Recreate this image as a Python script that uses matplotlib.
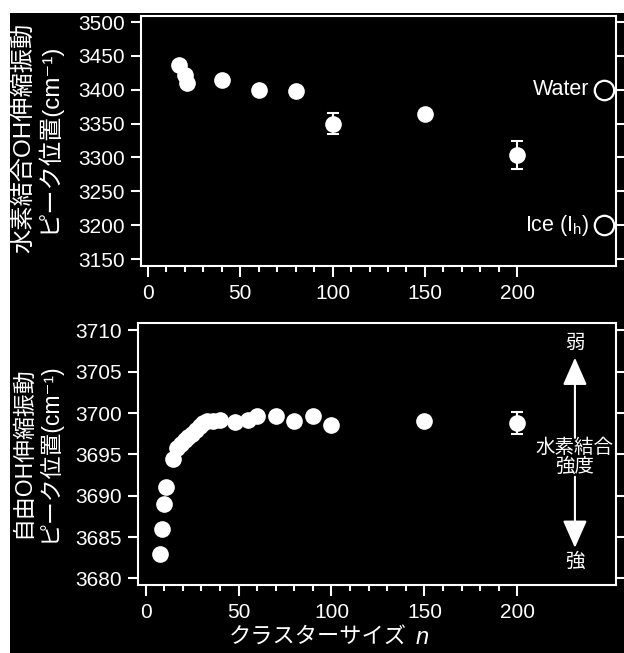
import matplotlib
matplotlib.use("Agg")
import matplotlib.pyplot as plt
from matplotlib.patches import Rectangle
import numpy as np

plt.rcParams['font.family'] = ['Liberation Sans', 'Noto Sans CJK JP', 'DejaVu Sans']
plt.rcParams['mathtext.fontset'] = 'custom'
plt.rcParams['mathtext.rm'] = 'Liberation Sans'
plt.rcParams['mathtext.it'] = 'Liberation Sans:italic'

# ---- data: hydrogen-bonded OH stretch (top) ----
n_hb = [17, 20, 21, 40, 60, 80, 100, 150, 200]
hb_peak = [3436, 3422, 3410, 3415, 3400, 3398, 3350, 3364, 3304]
hb_err = [0, 0, 0, 0, 0, 0, 16, 0, 21]
ref_labels = ["Water", "Ice (I$_\\mathrm{h}$)"]
ref_values = [3400, 3200]

# ---- data: free OH stretch (bottom) ----
n_free = [8, 9, 10, 11, 15, 17, 19, 21, 23, 25, 27, 29, 31, 33, 36, 40,
          48, 55, 60, 70, 80, 90, 100, 150, 200]
free_peak = [3683, 3686, 3689, 3691, 3694.4, 3695.8, 3696.3, 3696.7, 3697.1,
             3697.5, 3697.9, 3698.4, 3698.8, 3699.0, 3699.0, 3699.2,
             3698.9, 3699.2, 3699.7, 3699.6, 3699.0, 3699.7, 3698.5, 3699.0, 3698.8]
free_err = [0] * 24 + [1.3]

top_xticks = [0, 50, 100, 150, 200]
top_yticks = [3150, 3200, 3250, 3300, 3350, 3400, 3450, 3500]
bot_yticks = [3680, 3685, 3690, 3695, 3700, 3705, 3710]

W, H = 624, 653
fig = plt.figure(figsize=(W / 100, H / 100), dpi=100)
fig.patch.set_facecolor('white')
fig.add_artist(Rectangle((10 / W, 0), 1, (H - 13) / H, transform=fig.transFigure,
                         facecolor='black', edgecolor='none', zorder=-10))


def ax_rect(l, r, t, b):
    return [l / W, 1 - b / H, (r - l) / W, (b - t) / H]


ax1 = fig.add_axes(ax_rect(141, 616, 16, 266))
ax2 = fig.add_axes(ax_rect(138, 616, 323, 585))

for ax in (ax1, ax2):
    ax.set_facecolor('black')
    for s in ax.spines.values():
        s.set_color('white')
        s.set_linewidth(1.5)
    ax.tick_params(axis='both', which='major', colors='white', width=1.5,
                   length=7.5, direction='out', labelsize=15, pad=4)
    ax.tick_params(axis='x', which='minor', colors='white', width=1.5,
                   length=4, direction='out')
    ax.tick_params(axis='y', which='both', right=True, labelright=False)
    ax.tick_params(axis='x', which='major', length=8, pad=5)
    ax.set_xticks(top_xticks)
    ax.set_xticks(np.arange(0, 201, 10), minor=True)

# ---- top panel ----
ax1.set_xlim(-3.8, 253.5)
ax1.set_ylim(3139.7, 3508.9)
ax1.set_yticks(top_yticks)
idx = [i for i, e in enumerate(hb_err) if e > 0]
ax1.errorbar([n_hb[i] for i in idx], [hb_peak[i] for i in idx],
             yerr=[hb_err[i] for i in idx], fmt='none', ecolor='white',
             elinewidth=1.5, capsize=4, capthick=1.5, zorder=2)
ax1.plot(n_hb, hb_peak, 'o', color='white', ms=12, mew=0, zorder=3)
for lab, val in zip(ref_labels, ref_values):
    ax1.plot([247], [val], 'o', ms=14, mfc='black', mec='white', mew=1.6,
             clip_on=False, zorder=3)
    ax1.text(239, val, lab, color='white', fontsize=15.5, ha='right', va='center')

# ---- bottom panel ----
ax2.set_xlim(-4.1, 253.1)
ax2.set_ylim(3679.2, 3710.9)
ax2.set_yticks(bot_yticks)
idx = [i for i, e in enumerate(free_err) if e > 0]
ax2.errorbar([n_free[i] for i in idx], [free_peak[i] for i in idx],
             yerr=[free_err[i] for i in idx], fmt='none', ecolor='white',
             elinewidth=1.5, capsize=4, capthick=1.5, zorder=2)
ax2.plot(n_free, free_peak, 'o', color='white', ms=12, mew=0, zorder=3)

ax_x = 231
astyle = '-|>,head_length=1.7,head_width=0.75'
ax2.annotate('', xy=(ax_x, 3706.7), xytext=(ax_x, 3697.0),
             arrowprops=dict(arrowstyle=astyle, color='white', lw=1.5,
                             shrinkA=0, shrinkB=0, mutation_scale=10))
ax2.annotate('', xy=(ax_x, 3683.7), xytext=(ax_x, 3692.3),
             arrowprops=dict(arrowstyle=astyle, color='white', lw=1.5,
                             shrinkA=0, shrinkB=0, mutation_scale=10))
ax2.text(ax_x, 3708.4, '弱', color='white', fontsize=14, ha='center', va='center')
ax2.text(ax_x, 3682.0, '強', color='white', fontsize=14, ha='center', va='center')
ax2.text(ax_x, 3694.7, '水素結合\n強度', color='white', fontsize=14, ha='center',
         va='center', multialignment='center', linespacing=1.0)

# ---- axis labels ----
fig.text(36 / W, 1 - 138 / H, '水素結合OH伸縮振動\nピーク位置(cm⁻¹)', color='white',
         fontsize=17.5, rotation=90, ha='center', va='center',
         multialignment='center', linespacing=1.0)
fig.text(36 / W, 1 - 452 / H, '自由OH伸縮振動\nピーク位置(cm⁻¹)', color='white',
         fontsize=16.5, rotation=90, ha='center', va='center',
         multialignment='center', linespacing=1.1)
fig.text(407 / W, 1 - 638 / H, 'クラスターサイズ', color='white', fontsize=16,
         ha='right', va='center')
fig.text(416 / W, 1 - 637 / H, 'n', color='white', fontsize=17, style='italic',
         ha='left', va='center')

fig.savefig('out.png', dpi=100, facecolor=fig.get_facecolor())
